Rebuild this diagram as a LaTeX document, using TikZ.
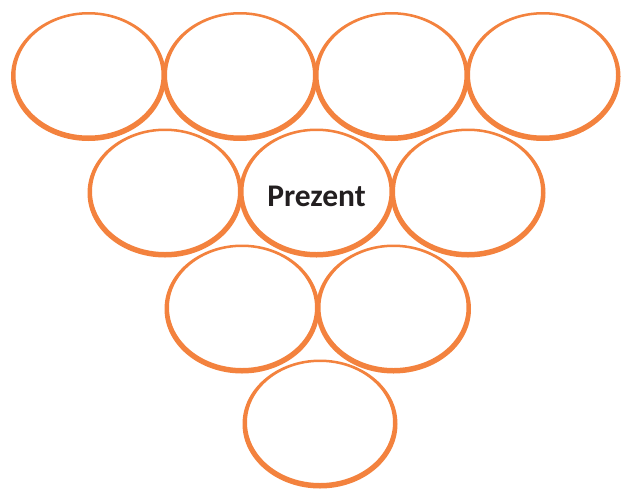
\documentclass[tikz,border=0pt]{standalone}
\usepackage{fontspec}
\setsansfont{Carlito}
\definecolor{bubbleorange}{RGB}{243,130,62}
\definecolor{textdark}{RGB}{35,31,32}
\begin{document}
\begin{tikzpicture}[
  x=1pt, y=-1pt,
  brush/.style={fill=bubbleorange, even odd rule},
  every node/.style={inner sep=0pt, font=\sffamily\bfseries\fontsize{31.5pt}{31.5pt}\selectfont, text=textdark}
]
  \useasboundingbox (0,0) rectangle (629,488);
  % ---- centres of the bubbles ----
  \coordinate (A1) at ( 88.5, 76.5);
  \coordinate (A2) at (240.0, 76.5);
  \coordinate (A3) at (391.5, 76.5);
  \coordinate (A4) at (543.0, 76.5);
  \coordinate (B1) at (165.0,193);
  \coordinate (B2) at (316.5,193);
  \coordinate (B3) at (468.0,193);
  \coordinate (C1) at (242.0,309);
  \coordinate (C2) at (393.5,309);
  \coordinate (D1) at (320.0,424);
  % ---- brush-stroke rings: outer ellipse minus inner one lifted a bit ----
  \fill[brush] (A1) ellipse [x radius=77.5, y radius=64.5] ([yshift=1.5pt]A1) ellipse [x radius=73, y radius=60.5];
  \fill[brush] (A2) ellipse [x radius=77.5, y radius=64.5] ([yshift=1.5pt]A2) ellipse [x radius=73, y radius=60.5];
  \fill[brush] (A3) ellipse [x radius=77.5, y radius=64.5] ([yshift=1.5pt]A3) ellipse [x radius=73, y radius=60.5];
  \fill[brush] (A4) ellipse [x radius=77.5, y radius=64.5] ([yshift=1.5pt]A4) ellipse [x radius=73, y radius=60.5];
  \fill[brush] (B1) ellipse [x radius=77.5, y radius=64.5] ([yshift=1.5pt]B1) ellipse [x radius=73, y radius=60.5];
  \fill[brush] (B2) ellipse [x radius=77.5, y radius=64.5] ([yshift=1.5pt]B2) ellipse [x radius=73, y radius=60.5];
  \fill[brush] (B3) ellipse [x radius=77.5, y radius=64.5] ([yshift=1.5pt]B3) ellipse [x radius=73, y radius=60.5];
  \fill[brush] (C1) ellipse [x radius=77.5, y radius=64.5] ([yshift=1.5pt]C1) ellipse [x radius=73, y radius=60.5];
  \fill[brush] (C2) ellipse [x radius=77.5, y radius=64.5] ([yshift=1.5pt]C2) ellipse [x radius=73, y radius=60.5];
  \fill[brush] (D1) ellipse [x radius=77.5, y radius=64.5] ([yshift=1.5pt]D1) ellipse [x radius=73, y radius=60.5];
  % ---- label ----
  \node (prezent) at ([yshift=-3pt]B2) {Prezent};
\end{tikzpicture}
\end{document}
